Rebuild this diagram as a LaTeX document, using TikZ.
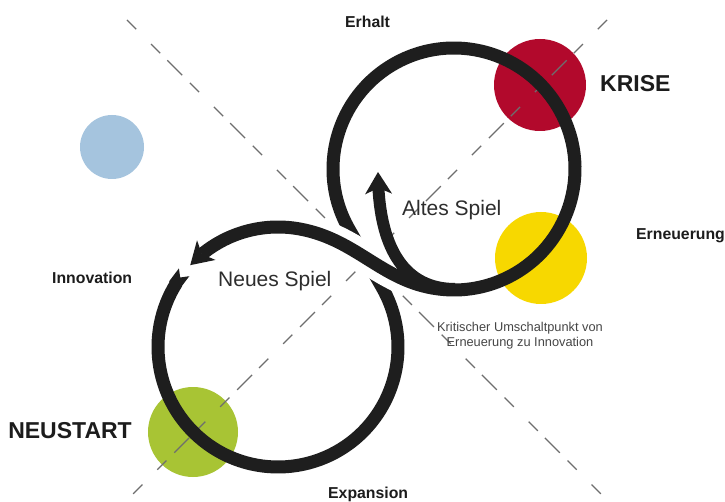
\documentclass[tikz,border=0pt]{standalone}
\usepackage{fontspec}
\setmainfont{Liberation Sans}
\usetikzlibrary{arrows.meta,bending}
\definecolor{krise}{RGB}{178,9,44}
\definecolor{erneu}{RGB}{247,216,0}
\definecolor{erhalt}{RGB}{165,196,222}
\definecolor{neustart}{RGB}{168,196,52}
\definecolor{bandc}{RGB}{30,30,30}
\definecolor{dashc}{RGB}{110,110,110}
\definecolor{labc}{RGB}{28,28,28}
\definecolor{spielc}{RGB}{45,45,45}
\definecolor{notec}{RGB}{70,70,70}
\begin{document}
\begin{tikzpicture}[x=1pt,y=1pt,
  band/.style={line width=13pt, draw=bandc},
  dashline/.style={draw=dashc, line width=1.4pt, dash pattern=on 13pt off 21pt on 13pt off 10pt on 21pt off 11pt},
  lab/.style={font=\fontsize{15.8}{18}\selectfont\bfseries, text=labc, inner sep=0pt},
  big/.style={font=\fontsize{23}{26}\selectfont\bfseries, text=labc, inner sep=0pt},
  spiel/.style={font=\fontsize{21}{24}\selectfont, text=spielc, inner sep=0pt},
  note/.style={font=\fontsize{12.8}{15}\selectfont, text=notec, inner sep=0pt},
  headtip/.style={-{Stealth[length=22pt,width=27pt,inset=6pt,line width=0pt]}},
  tailcut/.style={{Triangle Cap[reversed]}-}
]
\useasboundingbox (0,0) rectangle (725,501);
\fill[white] (0,0) rectangle (725,501);

% coloured discs
\fill[krise] (540,416) circle[radius=46];
\fill[erneu] (541,243) circle[radius=46];
\fill[erhalt] (112,354) circle[radius=32];
\fill[neustart] (193,69) circle[radius=45];

% dashed diagonals
\coordinate (d1a) at (127,481);
\coordinate (d1b) at (605,3);
\coordinate (d2a) at (607,481);
\coordinate (d2b) at (130,4);
\draw[dashline] (d1a) -- (d1b);
\draw[dashline] (d2a) -- (d2b);

% labels
\node[lab, anchor=base west] (erhaltlbl) at (345,473.7) {Erhalt};
\node[big, anchor=base west] (kriselbl) at (600,409.3) {KRISE};
\node[lab, anchor=base west] (erneulbl) at (636,261.7) {Erneuerung};
\node[lab, anchor=base west] (innovlbl) at (52,217) {Innovation};
\node[lab, anchor=base west] (expanlbl) at (328,3) {Expansion};
\node[big, anchor=base east] (neulbl) at (132,62.7) {NEUSTART};
\node[spiel, anchor=base west] (altes) at (402,285) {Altes Spiel};
\node[spiel, anchor=base west] (neues) at (218,214) {Neues Spiel};
\node[note, anchor=base] (k1) at (520,169.3) {Kritischer Umschaltpunkt von};
\node[note, anchor=base] (k2) at (520,154.3) {Erneuerung zu Innovation};

% loop centres
\coordinate (L) at (278,154);
\coordinate (U) at (454,332);
\coordinate (X) at (365,246);

% under strand: lower loop -> crossing -> upper loop
\draw[band, tailcut] ([shift={(141.5:120)}]L) arc[start angle=141.5, end angle=389.6, radius=120]
  -- ([shift={(209.6:121)}]U) arc[start angle=209.6, end angle=-95, radius=121];

% white gap around the over strand
\begin{scope}
  \clip (X) circle[radius=45];
  \draw[white, line width=31pt] ([shift={(-95:121)}]U) .. controls (383.7,216.7) and (359,261) .. ([shift={(79.4:120)}]L);
\end{scope}

% over strand: upper loop bottom -> crossing -> lower loop top, arrow
\draw[band, headtip] ([shift={(-95:121)}]U) .. controls (383.7,216.7) and (359,261) .. ([shift={(79.4:120)}]L)
  arc[start angle=79.4, end angle=137, radius=120];

% inner arrow (Altes Spiel)
\draw[band, line width=12pt, headtip] (455,212) .. controls (400,212) and (378,260) .. (378,329);
\end{tikzpicture}
\end{document}
